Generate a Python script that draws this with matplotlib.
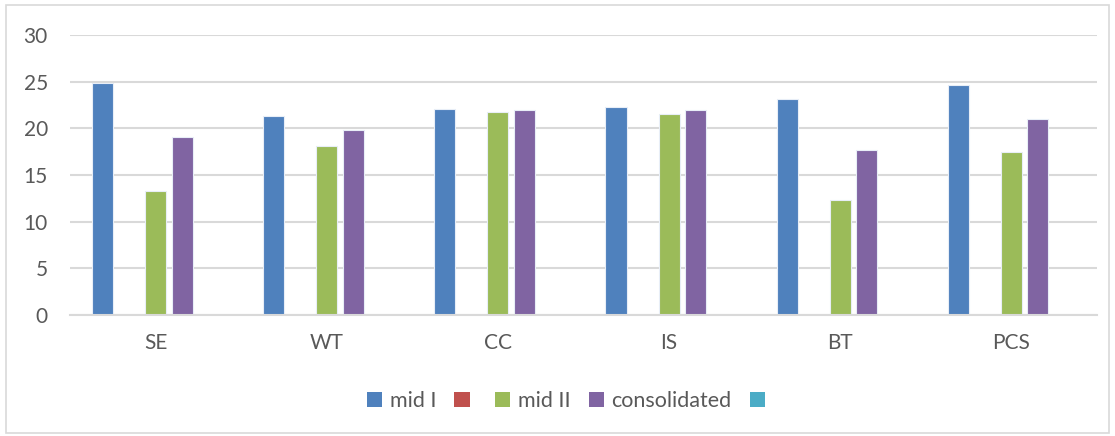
import matplotlib.pyplot as plt
from matplotlib.patches import Rectangle, Patch
import numpy as np

categories = ['SE', 'WT', 'CC', 'IS', 'BT', 'PCS']
series_names = ['mid I', '', 'mid II', 'consolidated', '']
mid1 = [24.9, 21.35, 22.1, 22.3, 23.1, 24.6]
blank1 = [0, 0, 0, 0, 0, 0]
mid2 = [13.3, 18.1, 21.8, 21.5, 12.3, 17.5]
consolidated = [19.1, 19.8, 22.0, 22.0, 17.7, 21.0]
blank2 = [0, 0, 0, 0, 0, 0]
colors = ['#4f81bd', '#c0504d', '#9bbb59', '#8064a2', '#4bacc6']

plt.rcParams['font.family'] = ['Lato', 'DejaVu Sans']
text_color = '#595959'
grid_color = '#d9d9d9'

fig = plt.figure(figsize=(11.15, 4.36), dpi=100)
ax = fig.add_axes([0.0628, 0.2775, 0.921, 0.642])

x = np.arange(len(categories))
slot = 0.155
bar_w = 0.123
all_series = [mid1, blank1, mid2, consolidated, blank2]
for i, vals in enumerate(all_series):
    offs = (i - 2) * slot
    ax.bar(x + offs, vals, width=bar_w, color=colors[i],
           edgecolor='#e8eef7', linewidth=0.8, zorder=2)

ax.set_xlim(-0.5, len(categories) - 0.5)
ax.set_ylim(0, 30)
ax.set_yticks(range(0, 31, 5))
ax.set_xticks(x)
ax.set_xticklabels(categories)
ax.yaxis.grid(True, color=grid_color, linewidth=1.5, zorder=0)
ax.set_axisbelow(True)
for s in ['top', 'right', 'left']:
    ax.spines[s].set_visible(False)
ax.spines['bottom'].set_color(grid_color)
ax.spines['bottom'].set_linewidth(1.5)
ax.spines['bottom'].set_zorder(3)
ax.tick_params(axis='both', length=0, labelsize=15, colors=text_color)
ax.tick_params(axis='x', pad=13)
ax.tick_params(axis='y', pad=16)

handles = [Patch(facecolor=c) for c in colors]
leg = fig.legend(handles, series_names, loc='center', bbox_to_anchor=(0.511, 0.08),
                 ncol=5, frameon=False, fontsize=15.5, handlelength=0.7, handleheight=0.7,
                 handletextpad=0.35, columnspacing=0.85)
for t in leg.get_texts():
    t.set_color(text_color)

fig.patches.append(Rectangle((0.005, 0.008), 0.99, 0.98, transform=fig.transFigure,
                             fill=False, edgecolor=grid_color, linewidth=1.2))

fig.savefig('out.png', dpi=100)
